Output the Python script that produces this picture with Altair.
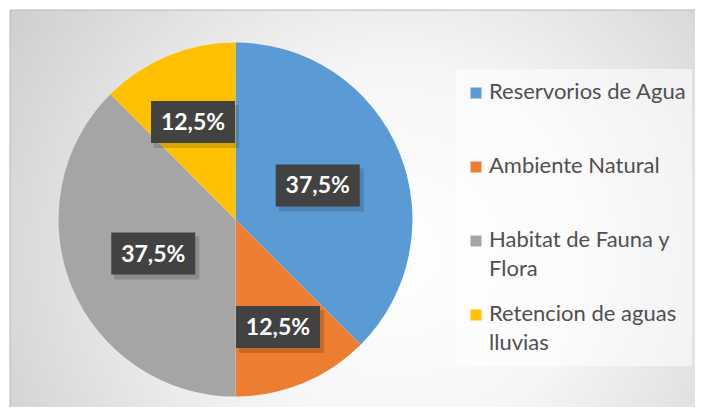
import altair as alt
import pandas as pd

# ---- data ----
categories = ["Reservorios de Agua", "Ambiente Natural", "Habitat de Fauna y Flora", "Retencion de aguas lluvias"]
values = [37.5, 12.5, 37.5, 12.5]
legend_labels = ["Reservorios de Agua", "Ambiente Natural", "Habitat de Fauna y\nFlora", "Retencion de aguas\nlluvias"]
colors = ["#5B9BD5", "#ED7D31", "#A5A5A5", "#FFC000"]

# ---- layout constants ----
W, H = 685, 397
CX, CY, R = 225.5, 209.5, 177
BIG_LR, SMALL_LR = 89, 111
BOX_W, BOX_H = 84, 42
LEG_MX, LEG_TX, LEG_Y0, LEG_STEP = 466, 479, 89, 74
FONT = "Lato"

df = pd.DataFrame({"cat": categories, "value": values, "idx": list(range(len(categories))),
                   "legend": legend_labels})
base = alt.Chart(df)

bg = base.transform_filter("datum.idx == 0").mark_rect(
    fill={"gradient": "radial", "x1": 0.55, "y1": 0.55, "r1": 0, "x2": 0.55, "y2": 0.55, "r2": 0.75,
          "stops": [{"offset": 0, "color": "#ffffff"}, {"offset": 0.35, "color": "#f6f6f6"},
                    {"offset": 1, "color": "#c4c4c4"}]},
    stroke="#b8b8b8", strokeWidth=1,
).encode(x=alt.value(0), x2=alt.value(W + 20), y=alt.value(0), y2=alt.value(H + 20))

legbox = base.transform_filter("datum.idx == 0").mark_rect(
    fill="#ffffff", opacity=0.55
).encode(x=alt.value(446), x2=alt.value(682), y=alt.value(59), y2=alt.value(356))

pie = base.mark_arc(radius=R).encode(
    theta=alt.Theta("value:Q", stack=True),
    color=alt.Color("cat:N", scale=alt.Scale(domain=categories, range=colors), legend=None),
    order=alt.Order("idx:Q"),
    x=alt.value(CX), y=alt.value(CY),
)

lab = base.transform_window(
    cum="sum(value)", sort=[alt.SortField("idx")], frame=[None, 0]
).transform_joinaggregate(total="sum(value)").transform_calculate(
    frac="datum.value / datum.total",
    mid="2 * PI * (datum.cum - datum.value / 2) / datum.total",
).transform_calculate(
    lr=f"datum.frac > 0.25 ? {BIG_LR} : {SMALL_LR}",
).transform_calculate(
    px=f"{CX} + datum.lr * sin(datum.mid)",
    py=f"{CY} - datum.lr * cos(datum.mid) + (datum.frac > 0.25 ? 0 : 5)",
    label="replace(format(datum.frac, '.1%'), '.', ',')",
).transform_calculate(
    bx0=f"datum.px - {BOX_W / 2}", bx1=f"datum.px + {BOX_W / 2}",
    by0=f"datum.py - {BOX_H / 2}", by1=f"datum.py + {BOX_H / 2}",
    sx0=f"datum.px - {BOX_W / 2} + 3", sx1=f"datum.px + {BOX_W / 2} + 4",
    sy0=f"datum.py - {BOX_H / 2} + 4", sy1=f"datum.py + {BOX_H / 2} + 5",
)

shadow = lab.mark_rect(fill="#000000", opacity=0.15).encode(
    x=alt.X("sx0:Q", scale=None), x2="sx1:Q", y=alt.Y("sy0:Q", scale=None), y2="sy1:Q")
box = lab.mark_rect(fill="#424242").encode(
    x=alt.X("bx0:Q", scale=None), x2="bx1:Q", y=alt.Y("by0:Q", scale=None), y2="by1:Q")
txt = lab.mark_text(font=FONT, fontSize=23, fontWeight="bold", color="#ffffff",
                    align="center", baseline="middle", dy=1).encode(
    x=alt.X("px:Q", scale=None), y=alt.Y("py:Q", scale=None), text="label:N")

leg = base.transform_calculate(
    ly=f"{LEG_Y0} + datum.idx * {LEG_STEP}",
    my=f"{LEG_Y0} + datum.idx * {LEG_STEP} - 6",
    mx=f"{LEG_MX}", tx=f"{LEG_TX}",
)
leg_sym = leg.mark_square(size=120, opacity=1).encode(
    x=alt.X("mx:Q", scale=None), y=alt.Y("my:Q", scale=None),
    color=alt.Color("cat:N", scale=alt.Scale(domain=categories, range=colors), legend=None))
leg_txt = leg.mark_text(font=FONT, fontSize=22, color="#505050", align="left",
                        baseline="alphabetic", lineBreak="\n", lineHeight=29).encode(
    x=alt.X("tx:Q", scale=None), y=alt.Y("ly:Q", scale=None), text="legend:N")

chart = alt.layer(bg, legbox, pie, shadow, box, txt, leg_sym, leg_txt).properties(
    width=W, height=H,
    autosize=alt.AutoSizeParams(type="none"),
    padding={"left": 2, "top": 2, "right": 0, "bottom": 0},
    background="#ffffff",
).configure_view(stroke=None)

chart.save("out.html", embed_options={"renderer": "svg", "actions": False})
